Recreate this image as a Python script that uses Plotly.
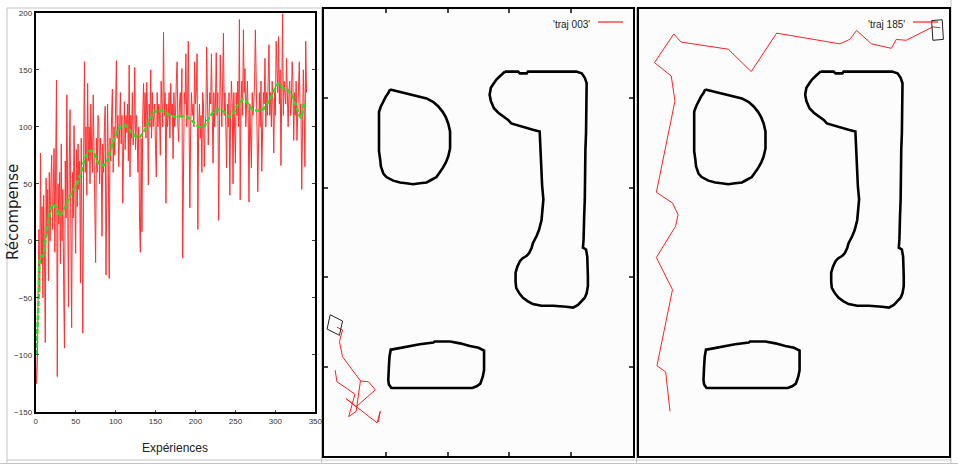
import plotly.graph_objects as go

W, H = 958, 465

# ---- left panel: reward per experiment --------------------------------
recompense = [
    -100, -125, -110, -60, 10, -45, 77, -20, 30, -50,
    40, -15, -89, 55, 5, 45, -35, 60, 0, 50,
    75, 10, 45, 81, -10, 60, 141, -119, 50, 15,
    60, -20, 85, 0, 45, -40, -94, 70, 20, 128,
    30, -58, 70, 115, 10, -76, 60, 20, 101, 40,
    -11, 80, 30, 85, 45, 70, -37, 90, 20, -81,
    75, 157, 60, 100, 40, 138, 70, 100, 50, 120,
    80, 60, 128, 85, 50, -19, 90, 60, 110, 103,
    50, 90, 70, 4, 85, 60, 100, 118, -30, 70,
    120, 60, -33, 90, 70, 110, 133, 60, 100, 75,
    120, 158, 90, 110, 65, 100, 130, 85, 110, 33,
    100, 122, 80, 110, 95, 120, 70, 154, 56, 110,
    90, 130, 84, 100, 152, 80, 110, 95, 60, 100,
    16, -10, 90, 8, 110, 138, 100, 130, 90, 139,
    110, 49, 120, 100, 150, 90, 130, 100, 110, 120,
    80, 56, 130, 100, 120, 110, 75, 140, 120, 100,
    183, 110, 130, 33, 120, 100, 110, 130, 90, 138,
    110, 120, 72, 130, 100, 110, 140, 157, 100, 87,
    120, 130, 110, 151, -15, 110, 130, 120, 164, 100,
    110, 175, 120, 29, 100, 130, 110, 120, 100, 157,
    120, 130, 164, 10, 100, 120, 90, 110, 60, 130,
    120, 65, 100, 110, 170, 120, 84, 110, 130, 120,
    164, 110, 68, 130, 100, 120, 165, 110, 130, 18,
    110, 163, 130, 100, 140, 182, 110, 130, 100, 64,
    120, 100, 130, 40, 110, 140, 120, 50, 130, 100,
    68, 130, 110, 140, 100, 194, 36, 120, 140, 110,
    185, 130, 151, 100, 120, 140, 110, 34, 120, 100,
    64, 130, 110, 120, 140, 185, 110, 100, 43, 120,
    130, 100, 140, 61, 110, 130, 120, 160, 100, 130,
    110, 140, 172, 110, 130, 100, 140, 120, 77, 130,
    110, 175, 140, 130, 179, 120, 150, 66, 130, 199,
    110, 140, 130, 120, 160, 110, 100, 130, 140, 110,
    120, 157, 140, 88, 130, 110, 140, 88, 120, 130,
    157, 110, 120, 45, 100, 150, 120, 65, 175, 130,
]
experiences = list(range(len(recompense)))

# smoothed reward (green dashed curve)
moyenne_x = [0, 2, 4, 6, 9, 12, 16, 21, 25, 30, 35, 42, 50, 56, 62, 68, 72, 78,
             84, 89, 96, 103, 110, 117, 124, 130, 138, 146, 155, 163, 172, 188,
             196, 204, 210, 217, 226, 234, 242, 246, 252, 260, 266, 272, 284,
             293, 304, 310, 316, 322, 328, 332, 336]
moyenne_y = [-100, -78, -45, -14, -13, 0, 18, 32, 30, 22, 27, 38, 48, 58, 73, 79,
             78, 69, 66, 69, 85, 97, 102, 98, 92, 91, 99, 111, 115, 112, 109, 109,
             105, 100, 100, 108, 115, 114, 109, 110, 118, 124, 120, 115, 115,
             124, 138, 134, 132, 126, 114, 108, 121]

# ---- map obstacles (same map in both trajectory panels) ---------------
obst_rond_x = [1.07, 1.13, 1.23, 1.39, 1.55, 1.66, 1.77, 1.85, 1.92, 1.97, 2.01,
               2.04, 2.04, 2.04, 2.01, 1.97, 1.92, 1.86, 1.82, 1.74, 1.66, 1.55,
               1.44, 1.33, 1.23, 1.12, 1.01, 0.96, 0.92, 0.91, 0.89, 0.89, 0.89,
               0.89, 0.89, 0.92, 0.96, 1.00, 1.04, 1.07]
obst_rond_y = [4.10, 4.09, 4.07, 4.04, 4.02, 4.00, 3.96, 3.91, 3.85, 3.79, 3.72,
               3.63, 3.54, 3.44, 3.35, 3.28, 3.22, 3.16, 3.12, 3.09, 3.06, 3.05,
               3.04, 3.05, 3.06, 3.08, 3.12, 3.16, 3.24, 3.31, 3.41, 3.54, 3.67,
               3.80, 3.85, 3.91, 3.97, 4.02, 4.06, 4.10]

obst_long_x = [2.93, 3.14, 3.17, 3.28, 3.30, 3.60, 4.08, 4.17, 4.22, 4.25, 4.25,
               4.25, 4.25, 4.24, 4.23, 4.23, 4.22, 4.21, 4.21, 4.20, 4.19, 4.24,
               4.26, 4.27, 4.27, 4.27, 4.25, 4.22, 4.17, 4.11, 4.03, 3.92, 3.71,
               3.52, 3.38, 3.30, 3.22, 3.16, 3.11, 3.10, 3.10, 3.13, 3.17, 3.21,
               3.28, 3.32, 3.36, 3.38, 3.44, 3.48, 3.52, 3.53, 3.55, 3.53, 3.52,
               3.51, 3.50, 3.49, 3.38, 3.28, 3.14, 3.03, 2.98, 2.89, 2.82, 2.75,
               2.70, 2.68, 2.70, 2.74, 2.79, 2.85, 2.89, 2.93]
obst_long_y = [4.30, 4.30, 4.28, 4.28, 4.30, 4.30, 4.30, 4.28, 4.23, 4.17, 4.10,
               3.99, 3.84, 3.61, 3.43, 3.07, 2.87, 2.68, 2.49, 2.42, 2.33, 2.31,
               2.23, 2.12, 2.01, 1.90, 1.82, 1.77, 1.73, 1.69, 1.66, 1.67, 1.68,
               1.68, 1.70, 1.73, 1.77, 1.82, 1.88, 1.95, 2.05, 2.12, 2.18, 2.21,
               2.24, 2.27, 2.33, 2.38, 2.46, 2.53, 2.64, 2.75, 2.87, 3.02, 3.16,
               3.31, 3.46, 3.63, 3.65, 3.67, 3.69, 3.72, 3.76, 3.80, 3.84, 3.89,
               3.97, 4.04, 4.12, 4.16, 4.21, 4.25, 4.28, 4.30]

obst_bas_x = [1.09, 1.23, 1.39, 1.55, 1.77, 1.79, 2.04, 2.20, 2.36, 2.50, 2.59,
              2.59, 2.59, 2.57, 2.53, 2.47, 2.40, 2.09, 1.55, 1.09, 1.05, 1.04,
              1.05, 1.06, 1.08, 1.09]
obst_bas_y = [1.19, 1.21, 1.23, 1.25, 1.27, 1.28, 1.28, 1.26, 1.23, 1.21, 1.18,
              1.08, 0.96, 0.89, 0.81, 0.78, 0.76, 0.76, 0.76, 0.76, 0.80, 0.85,
              1.00, 1.11, 1.19, 1.19]

# ---- trajectories -------------------------------------------------------
traj003_x = [0.18, 0.21, 0.36, 0.50, 0.40, 0.52, 0.59, 0.72, 0.83, 0.52, 0.36,
             0.86, 0.91, 0.88, None, 0.59, 0.44, 0.30, 0.25, 0.30, 0.21]
traj003_y = [0.96, 0.83, 0.76, 0.69, 0.44, 0.50, 0.84, 0.83, 0.74, 0.55, 0.64,
             0.37, 0.50, 0.38, None, 0.84, 0.98, 1.11, 1.28, 1.41, 1.44]
robot003_x = [0.10, 0.30, 0.25, 0.05, 0.10]
robot003_y = [1.58, 1.51, 1.35, 1.42, 1.58]

traj185_x = [0.50, 0.43, 0.29, 0.54, 0.28, 0.59, 0.63, 0.54, 0.28, 0.58, 0.52,
             0.25, 0.56, 0.68, 1.44, 1.81, 2.22, 3.24, 3.40, 3.51, 3.75, 4.07,
             4.15, 4.31, 4.74, 4.86]
traj185_y = [0.50, 0.94, 1.01, 1.86, 2.22, 2.57, 2.70, 2.83, 2.95, 3.97, 4.25,
             4.40, 4.72, 4.63, 4.55, 4.30, 4.73, 4.61, 4.66, 4.76, 4.61, 4.56,
             4.66, 4.65, 4.80, 4.79]
robot185_x = [4.72, 4.89, 4.91, 4.74, 4.72]
robot185_y = [4.87, 4.88, 4.66, 4.65, 4.87]


def px(x):
    return x / W


def py(y):
    return 1 - y / H


fig = go.Figure()

fig.add_trace(go.Scatter(x=experiences, y=recompense, mode='lines',
                         line=dict(color='#ff1a1a', width=1), opacity=0.9,
                         xaxis='x', yaxis='y', showlegend=False))
fig.add_trace(go.Scatter(x=moyenne_x, y=moyenne_y, mode='lines',
                         line=dict(color='#22e022', width=2.5, dash='5px,2px',
                                   shape='spline', smoothing=0.8),
                         xaxis='x', yaxis='y', showlegend=False))

for ax, traj_x, traj_y, rob_x, rob_y in [
        ('2', traj003_x, traj003_y, robot003_x, robot003_y),
        ('3', traj185_x, traj185_y, robot185_x, robot185_y)]:
    for ox, oy in [(obst_rond_x, obst_rond_y), (obst_long_x, obst_long_y),
                   (obst_bas_x, obst_bas_y)]:
        fig.add_trace(go.Scatter(x=ox, y=oy, mode='lines',
                                 line=dict(color='black', width=2.6),
                                 xaxis='x' + ax, yaxis='y' + ax, showlegend=False))
    fig.add_trace(go.Scatter(x=traj_x, y=traj_y, mode='lines',
                             line=dict(color='#ff2020', width=1),
                             xaxis='x' + ax, yaxis='y' + ax, showlegend=False))
    fig.add_trace(go.Scatter(x=rob_x, y=rob_y, mode='lines',
                             line=dict(color='#222222', width=1),
                             xaxis='x' + ax, yaxis='y' + ax, showlegend=False))

tick_font = dict(family='Liberation Sans, Arial, sans-serif', size=8, color='#333333')
frame = dict(showline=True, linecolor='black', linewidth=2, mirror=True,
             showgrid=False, zeroline=False, automargin=False)

fig.update_layout(
    width=W, height=H,
    margin=dict(l=0, r=0, t=0, b=0, pad=0),
    paper_bgcolor='white',
    plot_bgcolor='white',
    xaxis=dict(domain=[px(35.7), px(315.3)], range=[0, 350],
               tickvals=[0, 50, 100, 150, 200, 250, 300, 350],
               ticks='inside', ticklen=2, tickfont=tick_font, **frame),
    yaxis=dict(domain=[py(412), py(12.7)], range=[-150, 200],
               tickvals=[-150, -100, -50, 0, 50, 100, 150, 200],
               ticks='inside', ticklen=3, tickfont=tick_font,
               **{**frame, 'mirror': 'ticks'}),
    xaxis2=dict(domain=[px(324), px(633)], range=[0, 5], anchor='y2',
                tickvals=[1, 2, 3, 4], showticklabels=False,
                ticks='inside', ticklen=4, tickwidth=1.5,
                **{**frame, 'mirror': 'ticks'}),
    yaxis2=dict(domain=[py(456), py(9)], range=[0, 5], anchor='x2',
                tickvals=[1, 2, 3, 4], showticklabels=False,
                ticks='inside', ticklen=4, tickwidth=1.5,
                **{**frame, 'mirror': 'ticks'}),
    xaxis3=dict(domain=[px(639), px(949)], range=[0, 5], anchor='y3',
                showticklabels=False, ticks='', **frame),
    yaxis3=dict(domain=[py(456), py(9)], range=[0, 5], anchor='x3',
                showticklabels=False, ticks='', **frame),
)

# light grey panel frames
grey = '#c4c4c4'
for x0, y0, x1, y1 in [(7, 8, 951, 8), (7, 460, 951, 460), (0, 463.5, 958, 463.5),
                       (7, 8, 7, 463), (321.5, 8, 321.5, 463),
                       (636.5, 8, 636.5, 463), (951, 0, 951, 463)]:
    fig.add_shape(type='line', xref='paper', yref='paper',
                  x0=px(x0), y0=py(y0), x1=px(x1), y1=py(y1),
                  line=dict(color=grey, width=1), layer='below')

# off-white map backgrounds
for x0, x1 in [(324, 633), (639, 949)]:
    fig.add_shape(type='rect', xref='paper', yref='paper',
                  x0=px(x0), y0=py(456), x1=px(x1), y1=py(9),
                  fillcolor='#fcfcfc', line=dict(width=0), layer='below')

# axis titles
fig.add_annotation(text='Récompense', xref='paper', yref='paper',
                   x=px(13), y=py(212), xanchor='center', yanchor='middle',
                   textangle=-90, showarrow=False,
                   font=dict(family='DejaVu Sans, sans-serif', size=15,
                             color='#222222'))
fig.add_annotation(text='Expériences', xref='paper', yref='paper',
                   x=px(175), y=py(448), xanchor='center', yanchor='middle',
                   showarrow=False,
                   font=dict(family='Liberation Sans, Arial, sans-serif',
                             size=12, color='#222222'))

# key for each trajectory
leg_font = dict(family='Liberation Sans, Arial, sans-serif', size=10, color='#222222')
for label, x_txt, x0, x1 in [("'traj 003'", 592, 598, 623),
                             ("'traj 185'", 907, 913, 938)]:
    fig.add_annotation(text=label, xref='paper', yref='paper',
                       x=px(x_txt), y=py(24), xanchor='right', yanchor='middle',
                       showarrow=False, font=leg_font)
    fig.add_shape(type='line', xref='paper', yref='paper',
                  x0=px(x0), y0=py(22), x1=px(x1), y1=py(22),
                  line=dict(color='#ff2020', width=1.2))

fig.write_html("out.html", config={'displayModeBar': False},
               post_script="document.body.style.margin='0';"
                           "document.body.style.overflow='hidden';")
